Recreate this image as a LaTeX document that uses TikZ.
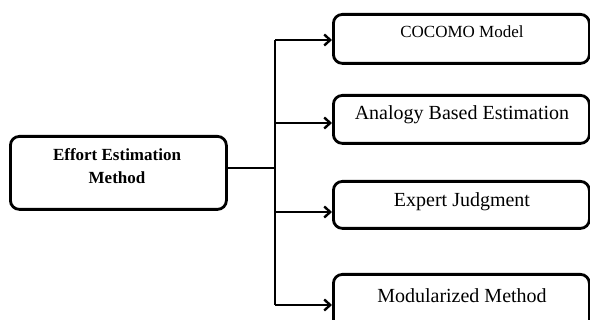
\documentclass[tikz,border=0pt]{standalone}
\usepackage{fontspec}
\setmainfont{Liberation Serif}
\usetikzlibrary{arrows.meta}
\begin{document}
\begin{tikzpicture}[x=1pt,y=-1pt,
  box/.style={draw=black,line width=2.8pt,rounded corners=9pt,fill=white,inner sep=0pt},
  link/.style={draw=black,line width=2.8pt},
  arr/.style={link,-{Straight Barb[length=6pt,width=11pt,line width=2.4pt]}},
  label/.style={font=\fontsize{20}{22}\selectfont}]
\useasboundingbox (0,0) rectangle (590,320);
\clip (0,0) rectangle (590,320);
% source box
\node[box,minimum width=216pt,minimum height=73pt,anchor=north west] (src) at (9,135) {};
\node[align=center,font=\bfseries\fontsize{17}{22.5}\selectfont] (st) at (117,166) {Effort Estimation\\Method};
% method boxes
\node[box,minimum width=256pt,minimum height=49pt,anchor=north west] (m1) at (332,13) {};
\node[font=\fontsize{17}{19}\selectfont] (t1) at (462,32) {COCOMO Model};
\node[box,minimum width=256pt,minimum height=48pt,anchor=north west] (m2) at (332,94) {};
\node[label] (t2) at (462,115) {Analogy Based Estimation};
\node[box,minimum width=256pt,minimum height=47pt,anchor=north west] (m3) at (332,180) {};
\node[label] (t3) at (462,202) {Expert Judgment};
\node[box,minimum width=256pt,minimum height=60pt,anchor=north west] (m4) at (332,273) {};
\node[label] (t4) at (462,296) {Modularized Method};
% trunk junctions
\coordinate (j0) at (275,168);
\coordinate (j1) at (275,40);
\coordinate (j2) at (275,123);
\coordinate (j3) at (275,212);
\coordinate (j4) at (275,305);
\draw[link] (src.east |- j0) -- (j0);
\draw[link] (j1) -- (j4);
\draw[arr] (j1) -- (m1.west |- j1);
\draw[arr] (j2) -- (m2.west |- j2);
\draw[arr] (j3) -- (m3.west |- j3);
\draw[arr] (j4) -- (m4.west |- j4);
\end{tikzpicture}
\end{document}
